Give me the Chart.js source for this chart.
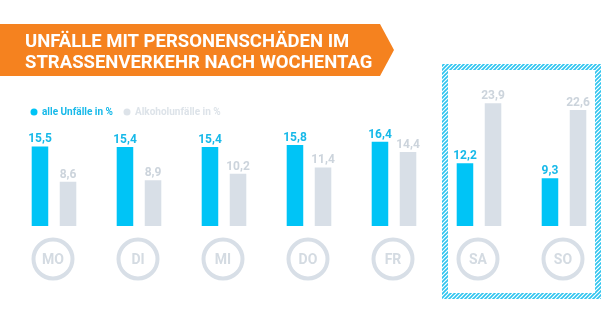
<!DOCTYPE html>
<html>
<head>
<meta charset="utf-8">
<script src="https://cdn.jsdelivr.net/npm/chart.js@4/dist/chart.umd.min.js"></script>
<style>
  html, body { margin: 0; padding: 0; background: #fff; }
  #wrap { width: 614px; height: 322px; position: relative; }
</style>
</head>
<body>
<div id="wrap"><canvas id="chart" width="614" height="322"></canvas></div>
<script>
const days = ['MO', 'DI', 'MI', 'DO', 'FR', 'SA', 'SO'];
const alleUnfaelle = [15.5, 15.4, 15.4, 15.8, 16.4, 12.2, 9.3];
const alkoholUnfaelle = [8.6, 8.9, 10.2, 11.4, 14.4, 23.9, 22.6];
const titleLines = ['UNFÄLLE MIT PERSONENSCHÄDEN IM', 'STRASSENVERKEHR NACH WOCHENTAG'];
const legendLabels = ['alle Unfälle in %', 'Alkoholunfälle in %'];

const BLUE = '#00c4f6';
const BLUE_TEXT = '#17b9e9';
const GREY = '#d8dfe7';
const GREY_TEXT = '#ccd4dc';
const ORANGE = '#f5821f';

const fmt = v => v.toFixed(1).replace('.', ',');

// orange arrow banner with the headline
const bannerPlugin = {
  id: 'banner',
  beforeDraw(chart) {
    const ctx = chart.ctx;
    ctx.save();
    ctx.fillStyle = ORANGE;
    ctx.beginPath();
    ctx.moveTo(0, 24);
    ctx.lineTo(380, 24);
    ctx.lineTo(394, 50);
    ctx.lineTo(380, 76);
    ctx.lineTo(0, 76);
    ctx.closePath();
    ctx.fill();
    ctx.fillStyle = '#fff';
    ctx.font = 'bold 18.5px Roboto';
    ctx.textBaseline = 'alphabetic';
    ctx.fillText(titleLines[0], 25, 47);
    ctx.fillText(titleLines[1], 25, 68);
    ctx.restore();
  }
};

// legend dots, weekday circles, value labels and the weekend frame
const decorPlugin = {
  id: 'decor',
  afterDatasetsDraw(chart) {
    const ctx = chart.ctx;
    const x = chart.scales.x;
    ctx.save();

    // legend
    ctx.font = 'bold 10px Roboto';
    ctx.textBaseline = 'middle';
    [[34, BLUE, BLUE_TEXT], [127, '#dde3e9', '#dde3e9']].forEach(([lx, dot, col], i) => {
      ctx.fillStyle = dot;
      ctx.beginPath();
      ctx.arc(lx, 112, 3.5, 0, Math.PI * 2);
      ctx.fill();
      ctx.fillStyle = col;
      ctx.textAlign = 'left';
      ctx.fillText(legendLabels[i], lx + 8, 112.5);
    });

    // value labels above the bars
    ctx.font = 'bold 12px Roboto';
    ctx.textAlign = 'center';
    ctx.textBaseline = 'alphabetic';
    chart.data.datasets.forEach((ds, di) => {
      const meta = chart.getDatasetMeta(di);
      meta.data.forEach((bar, i) => {
        ctx.fillStyle = di === 0 ? BLUE_TEXT : GREY_TEXT;
        ctx.fillText(fmt(ds.data[i]), bar.x, bar.y - 4);
      });
    });

    // weekday circles
    days.forEach((d, i) => {
      const cx = x.getPixelForValue(i) - 1;
      ctx.strokeStyle = GREY;
      ctx.lineWidth = 4;
      ctx.beginPath();
      ctx.arc(cx, 259, 19.5, 0, Math.PI * 2);
      ctx.stroke();
      ctx.fillStyle = '#d4dbe2';
      ctx.font = 'bold 14px Roboto';
      ctx.textBaseline = 'middle';
      ctx.fillText(d, cx, 260);
    });

    // hatched frame round the weekend
    const tile = document.createElement('canvas');
    tile.width = 4; tile.height = 4;
    const t = tile.getContext('2d');
    t.fillStyle = '#fff';
    t.fillRect(0, 0, 4, 4);
    t.strokeStyle = '#2ec4ef';
    t.lineWidth = 1.6;
    t.beginPath();
    t.moveTo(0, 4); t.lineTo(4, 0);
    t.moveTo(-1, 1); t.lineTo(1, -1);
    t.moveTo(3, 5); t.lineTo(5, 3);
    t.stroke();
    const pat = ctx.createPattern(tile, 'repeat');
    const half = (x.getPixelForValue(1) - x.getPixelForValue(0)) * 0.435;
    const left = Math.round(x.getPixelForValue(5) - half);
    const right = Math.round(x.getPixelForValue(6) + half);
    const top = 64, bottom = 299, bw = 6;
    ctx.fillStyle = pat;
    ctx.fillRect(left, top, right - left, bw);
    ctx.fillRect(left, bottom - bw, right - left, bw);
    ctx.fillRect(left, top, bw, bottom - top);
    ctx.fillRect(right - bw, top, bw, bottom - top);

    ctx.restore();
  }
};

new Chart(document.getElementById('chart'), {
  type: 'bar',
  data: {
    labels: days,
    datasets: [
      { label: legendLabels[0], data: alleUnfaelle, backgroundColor: BLUE },
      { label: legendLabels[1], data: alkoholUnfaelle, backgroundColor: GREY }
    ]
  },
  options: {
    responsive: false,
    devicePixelRatio: 1,
    animation: false,
    events: [],
    layout: { padding: { top: 72, bottom: 96, left: 11.5, right: 7.5 } },
    categoryPercentage: 0.66,
    barPercentage: 0.59,
    scales: {
      x: { display: false },
      y: { display: false, min: 0, max: 30 }
    },
    plugins: {
      legend: { display: false },
      tooltip: { enabled: false }
    }
  },
  plugins: [bannerPlugin, decorPlugin]
});
</script>
</body>
</html>
